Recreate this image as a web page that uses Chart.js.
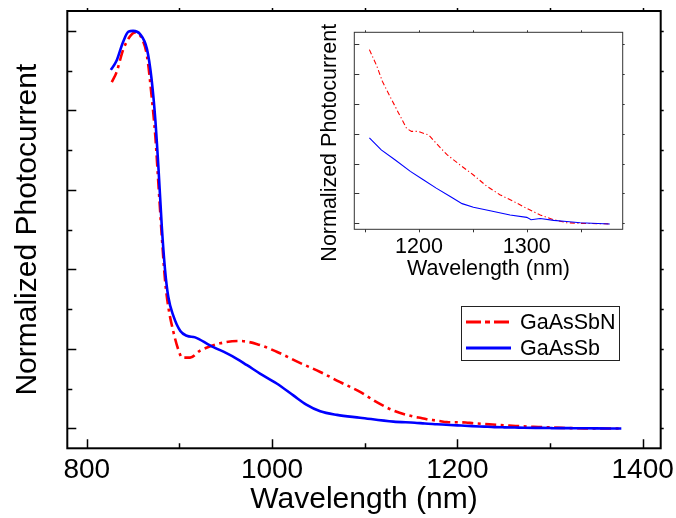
<!DOCTYPE html>
<html>
<head>
<meta charset="utf-8">
<script src="https://cdn.jsdelivr.net/npm/chart.js@4.4.1/dist/chart.umd.min.js"></script>
<style>
  html, body { margin: 0; padding: 0; background: #fff; }
  #wrap { position: relative; width: 676px; height: 518px; }
  #main { position: absolute; left: 0; top: 0; }
  #inset { position: absolute; left: 300px; top: 0; }
</style>
</head>
<body>
<div id="wrap">
  <canvas id="main" width="676" height="518"></canvas>
  <canvas id="inset" width="340" height="290"></canvas>
</div>
<script>
// GaAsSbN photocurrent (normalized)
const wavelengthN = [827, 832, 839.5, 847, 852, 859, 865, 870, 874, 877.5, 881, 884.5, 888, 893.5, 899, 903, 911.5, 922, 944, 965, 984, 1005, 1030, 1052, 1073, 1095, 1113, 1131,
  1154, 1161, 1166, 1173, 1181, 1188.5, 1193, 1199, 1209, 1216, 1226, 1238, 1250.5, 1263, 1275, 1287.5, 1300, 1312.5, 1325, 1337, 1349.5, 1377];
const gaAsSbN = [0.871, 0.895, 0.954, 0.987, 0.996, 0.983, 0.937, 0.836, 0.735, 0.609, 0.483, 0.373, 0.306, 0.243, 0.197, 0.178, 0.178, 0.195, 0.214, 0.220, 0.212, 0.193, 0.165, 0.142, 0.117, 0.092, 0.066, 0.045,
  0.0291, 0.0263, 0.0238, 0.0213, 0.0185, 0.0159, 0.0154, 0.0154, 0.0148, 0.0134, 0.0115, 0.0098, 0.0081, 0.0062, 0.0048, 0.0037, 0.0025, 0.0014, 0.0006, 0.0001, 0.0, -0.0001];

// GaAsSb photocurrent (normalized)
const wavelengthSb = [826, 832, 839, 845, 850, 857.5, 865, 870, 874, 877.5, 881, 884.5, 888, 893.5, 901, 908, 917, 933, 957, 973, 987, 1005, 1023, 1037, 1052, 1070, 1095, 1131,
  1154, 1165, 1178, 1192, 1204, 1216, 1229, 1240, 1250.5, 1266, 1284.5, 1300, 1304, 1312.5, 1325, 1337, 1349.5, 1377];
const gaAsSb = [0.902, 0.924, 0.971, 0.998, 1.0, 0.992, 0.954, 0.878, 0.777, 0.651, 0.508, 0.399, 0.331, 0.283, 0.245, 0.233, 0.229, 0.209, 0.182, 0.159, 0.138, 0.113, 0.083, 0.060, 0.043, 0.034, 0.027, 0.017,
  0.0143, 0.0123, 0.0106, 0.0087, 0.0073, 0.0059, 0.0045, 0.0033, 0.0027, 0.0021, 0.0014, 0.0010, 0.0006, 0.0008, 0.0005, 0.0003, 0.0001, -0.0001];

const seriesLabels = ['GaAsSbN', 'GaAsSb'];

// ticks
const mainXLabels = [800, 1000, 1200, 1400];
const mainXMinor = [900, 1100, 1300];
const mainYMajor = [0, 0.2, 0.4, 0.6, 0.8, 1.0];
const mainYMinor = [0.1, 0.3, 0.5, 0.7, 0.9];
const insetXLabels = [1200, 1300];
const insetXMinor = [1150, 1250, 1350];
const insetYTicks = [0, 0.005, 0.01, 0.015, 0.02, 0.025, 0.03];
const insetFrom = 1150;

const FONT = "'Liberation Sans', Arial, Helvetica, sans-serif";
const RED = '#ff0000';
const BLUE = '#0000ff';

const toPoints = (xs, ys, from = -Infinity) =>
  xs.map((x, i) => ({ x, y: ys[i] })).filter(p => p.x >= from);

// keep the plot box where it is, whatever the label widths
const noSidePad = s => { s.paddingLeft = 0; s.paddingRight = 0; };

// box round the plot with ticks drawn through the scales
const framePlugin = {
  id: 'frame',
  afterDatasetsDraw(chart, args, o) {
    const { ctx, chartArea: a, scales: { x, y } } = chart;
    ctx.save();
    ctx.strokeStyle = o.color;
    ctx.lineWidth = o.width;
    ctx.strokeRect(a.left, a.top, a.right - a.left, a.bottom - a.top);
    ctx.lineWidth = o.tickWidth;
    ctx.beginPath();
    const xt = [...o.xMajor.map(v => [v, 0]), ...o.xMinor.map(v => [v, 1])];
    const yt = [...o.yMajor.map(v => [v, 0]), ...o.yMinor.map(v => [v, 1])];
    for (const [v, k] of xt) {
      const px = Math.round(x.getPixelForValue(v)) + 0.5;
      ctx.moveTo(px, a.bottom); ctx.lineTo(px, a.bottom - o.bottom[k]);
      ctx.moveTo(px, a.top); ctx.lineTo(px, a.top + o.top[k]);
    }
    for (const [v, k] of yt) {
      const py = Math.round(y.getPixelForValue(v)) + 0.5;
      ctx.moveTo(a.left, py); ctx.lineTo(a.left + o.left[k], py);
      ctx.moveTo(a.right, py); ctx.lineTo(a.right - o.right[k], py);
    }
    ctx.stroke();
    ctx.restore();
  }
};

// boxed legend inside the plot
const boxLegend = {
  id: 'boxLegend',
  afterDraw(chart, args, o) {
    if (!o.show) return;
    const ctx = chart.ctx;
    ctx.save();
    ctx.strokeStyle = '#222';
    ctx.lineWidth = 1;
    ctx.strokeRect(o.x + 0.5, o.y + 0.5, o.w, o.h);
    ctx.font = `${o.fontSize}px ${FONT}`;
    ctx.textBaseline = 'middle';
    ctx.fillStyle = '#000';
    chart.data.datasets.forEach((ds, i) => {
      const yy = o.y + o.rowY[i];
      ctx.strokeStyle = ds.borderColor;
      ctx.lineWidth = 3;
      ctx.setLineDash(ds.legendDash || []);
      ctx.beginPath();
      ctx.moveTo(o.x + 5, yy);
      ctx.lineTo(o.x + 50, yy);
      ctx.stroke();
      ctx.setLineDash([]);
      ctx.fillText(ds.label, o.x + 59, yy + 1);
    });
    ctx.restore();
  }
};

Chart.register(framePlugin, boxLegend);

new Chart(document.getElementById('main'), {
  type: 'line',
  data: {
    datasets: [
      {
        label: seriesLabels[0],
        data: toPoints(wavelengthN, gaAsSbN),
        borderColor: RED,
        borderWidth: 2.6,
        borderDash: [11, 4.5, 3, 4.5],
        legendDash: [15, 4, 5, 4],
        order: 1
      },
      {
        label: seriesLabels[1],
        data: toPoints(wavelengthSb, gaAsSb),
        borderColor: BLUE,
        borderWidth: 2.6,
        order: 0
      }
    ]
  },
  options: {
    responsive: false,
    animation: false,
    devicePixelRatio: 1,
    layout: { padding: { top: 11, right: 15.3, left: 0, bottom: 0 } },
    elements: {
      point: { radius: 0 },
      line: { cubicInterpolationMode: 'monotone', fill: false }
    },
    scales: {
      x: {
        type: 'linear',
        min: 779,
        max: 1419.5,
        afterBuildTicks: s => { s.ticks = mainXLabels.map(v => ({ value: v })); },
        afterFit: s => { s.height = 69.7; noSidePad(s); },
        grid: { display: false, drawTicks: false },
        border: { display: false },
        ticks: { color: '#000', padding: 5, maxRotation: 0, autoSkip: false, callback: v => String(v), font: { family: FONT, size: 28 } },
        title: { display: true, text: 'Wavelength (nm)', color: '#000', padding: { top: 0, bottom: 0 }, font: { family: FONT, size: 30 } }
      },
      y: {
        min: -0.05,
        max: 1.05,
        afterFit: s => { s.width = 67.3; },
        grid: { display: false, drawTicks: false },
        border: { display: false },
        ticks: { display: false },
        title: { display: true, text: 'Normalized Photocurrent', color: '#000', padding: { top: 9.5, bottom: 0 }, font: { family: FONT, size: 30 } }
      }
    },
    plugins: {
      legend: { display: false },
      tooltip: { enabled: false },
      frame: {
        color: '#000', width: 2, tickWidth: 1.5,
        xMajor: mainXLabels, xMinor: mainXMinor, yMajor: mainYMajor, yMinor: mainYMinor,
        bottom: [9, 5], left: [9, 5], top: [-3, -3], right: [-3, -3]
      },
      boxLegend: { show: true, x: 461, y: 306, w: 158, h: 54, rowY: [16, 42], fontSize: 21.5 }
    }
  }
});

new Chart(document.getElementById('inset'), {
  type: 'line',
  data: {
    datasets: [
      {
        label: seriesLabels[0],
        data: toPoints(wavelengthN, gaAsSbN, insetFrom),
        borderColor: RED,
        borderWidth: 1.1,
        borderDash: [5, 2.5, 1.2, 2.5],
        order: 1
      },
      {
        label: seriesLabels[1],
        data: toPoints(wavelengthSb, gaAsSb, insetFrom),
        borderColor: BLUE,
        borderWidth: 1.1,
        order: 0
      }
    ]
  },
  options: {
    responsive: false,
    animation: false,
    devicePixelRatio: 1,
    layout: { padding: { top: 32.3, right: 17.3, left: 0, bottom: 0 } },
    elements: {
      point: { radius: 0 },
      line: { tension: 0, fill: false }
    },
    scales: {
      x: {
        type: 'linear',
        min: 1140,
        max: 1389,
        afterBuildTicks: s => { s.ticks = insetXLabels.map(v => ({ value: v })); },
        afterFit: s => { s.height = 60.7; noSidePad(s); },
        grid: { display: false, drawTicks: false },
        border: { display: false },
        ticks: { color: '#000', padding: 4.5, maxRotation: 0, autoSkip: false, callback: v => String(v), font: { family: FONT, size: 21.5 } },
        title: { display: true, text: 'Wavelength (nm)', color: '#000', padding: { top: 0, bottom: 8.4 }, font: { family: FONT, size: 21.5 } }
      },
      y: {
        min: -0.001,
        max: 0.032,
        afterFit: s => { s.width = 54.3; },
        grid: { display: false, drawTicks: false },
        border: { display: false },
        ticks: { display: false },
        title: { display: true, text: 'Normalized Photocurrent    ', color: '#000', padding: { top: 17, bottom: 0 }, font: { family: FONT, size: 21.5 } }
      }
    },
    plugins: {
      legend: { display: false },
      tooltip: { enabled: false },
      frame: {
        color: '#333', width: 1, tickWidth: 1,
        xMajor: insetXLabels, xMinor: insetXMinor, yMajor: insetYTicks, yMinor: [],
        bottom: [-3, -3], left: [5, 5], top: [-2, -2], right: [-2, -2]
      },
      boxLegend: { show: false }
    }
  }
});
</script>
</body>
</html>
